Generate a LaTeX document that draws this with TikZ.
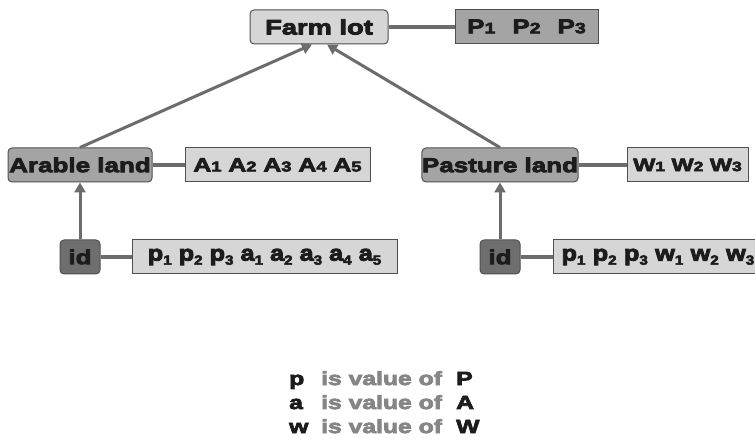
\documentclass[tikz,border=0pt]{standalone}
\usepackage{fontspec}
\newfontfamily\heavy[FakeStretch=1.3,FakeBold=4]{Liberation Sans Bold}
\newfontfamily\heavynarrow[FakeStretch=1.15,FakeBold=4]{Liberation Sans Bold}
\usetikzlibrary{arrows.meta}

\definecolor{edgegray}{HTML}{505050}
\definecolor{linkgray}{HTML}{6C6C6C}
\definecolor{lightfill}{HTML}{D6D6D6}
\definecolor{midfill}{HTML}{A4A4A4}
\definecolor{darkfill}{HTML}{6E6E6E}
\definecolor{txt}{HTML}{1C1C1C}
\definecolor{softtxt}{HTML}{858585}

% digit set smaller on the same baseline, and a lowered index
\newcommand\cnum[1]{\scalebox{0.75}{#1}}
\newcommand\lidx[1]{\raisebox{-4pt}{\scalebox{0.6}{#1}}}

\tikzset{
  box/.style={draw=edgegray, line width=1pt, minimum height=34pt, inner sep=0pt,
    text=txt, font=\heavy\fontsize{20}{22}\selectfont},
  rbox/.style={box, rounded corners=4pt},
  lowbox/.style={box, font=\heavynarrow\fontsize{22}{24}\selectfont},
  link/.style={draw=linkgray, line width=3.5pt},
  uparrow/.style={draw=linkgray, line width=3pt, -{Triangle[length=10pt,width=11pt]}},
  legend/.style={inner sep=0pt, anchor=base west, font=\heavy\fontsize{19}{21}\selectfont}
}

\begin{document}
\begin{tikzpicture}[x=1pt,y=-1pt]
\useasboundingbox (0,0) rectangle (755,443);
\clip (0,0) rectangle (755,443);
\fill[white] (0,0) rectangle (755,443);

% top level
\node[rbox, fill=lightfill, minimum width=138pt, font=\heavy\fontsize{21}{23}\selectfont] (farm) at (319,27) {Farm lot};
\node[box, fill=midfill, minimum width=143pt] (pbox) at (526.5,26.5)
  {P\cnum{1}\hspace{17pt}P\cnum{2}\hspace{17pt}P\cnum{3}};

% second level
\node[rbox, fill=midfill, minimum width=144pt] (arable) at (80,165) {Arable land};
\node[box, fill=lightfill, minimum width=185pt, font=\heavy\fontsize{19}{21}\selectfont] (abox) at (277.5,165)
  {A\cnum{1} A\cnum{2} A\cnum{3} A\cnum{4} A\cnum{5}};
\node[rbox, fill=midfill, minimum width=156pt] (pasture) at (500,165) {Pasture land};
\node[box, fill=lightfill, minimum width=121pt, font=\heavy\fontsize{18}{20}\selectfont] (wbox) at (687.5,165)
  {W\cnum{1} W\cnum{2} W\cnum{3}};

% identifiers
\node[rbox, fill=darkfill, minimum width=40pt] (id1) at (80,257) {id};
\node[lowbox, fill=lightfill, minimum width=265pt] (pabox) at (264.5,257)
  {p\lidx{1} p\lidx{2} p\lidx{3} a\lidx{1} a\lidx{2} a\lidx{3} a\lidx{4} a\lidx{5}};
\node[rbox, fill=darkfill, minimum width=40pt] (id2) at (500,257) {id};
\node[lowbox, fill=lightfill, anchor=west, text width=249pt, align=left, inner xsep=8pt] (pwbox) at (553,257)
  {p\lidx{1} p\lidx{2} p\lidx{3} w\lidx{1} w\lidx{2} w\lidx{3}};

% connectors
\draw[link] (farm.east) -- (pbox.west |- farm.east);
\draw[link] (arable.east) -- (abox.west);
\draw[link] (pasture.east) -- (wbox.west);
\draw[link] (id1.east) -- (pabox.west);
\draw[link] (id2.east) -- (pwbox.west);

\draw[uparrow] (arable.north) -- ([xshift=-7pt]farm.south);
\draw[uparrow] (pasture.north) -- ([xshift=8pt]farm.south);
\draw[uparrow] (id1.north) -- (arable.south);
\draw[uparrow] (id2.north) -- (pasture.south);

% legend
\foreach \s/\c/\y in {p/P/385, a/A/409, w/W/433}{
  \node[legend, text=txt] (l\s) at (289,\y) {\s};
  \node[legend, text=softtxt] (m\s) at (321,\y) {is value of};
  \node[legend, text=txt] (r\s) at (456,\y) {\c};
}
\end{tikzpicture}
\end{document}
